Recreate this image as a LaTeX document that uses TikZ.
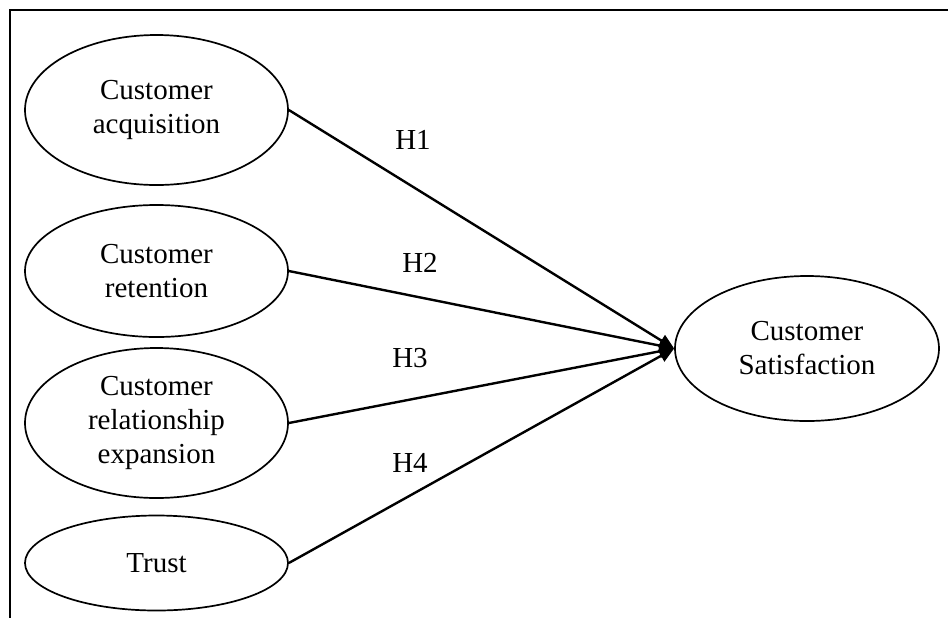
\documentclass[tikz,border=0pt]{standalone}
\usepackage{fontspec}
\setmainfont{Liberation Serif}
\usetikzlibrary{arrows.meta, shapes.geometric}

\begin{document}
\begin{tikzpicture}[x=0.5pt, y=-0.5pt,
  construct/.style={draw, ellipse, line width=0.85pt, inner sep=0pt, align=center,
    font=\fontsize{14.5}{17}\selectfont},
  hyp/.style={line width=1.2pt, -{Triangle[length=7.5pt, width=6.5pt]}},
  lbl/.style={font=\fontsize{14.5}{17}\selectfont}]
\useasboundingbox (0,0) rectangle (948,618);
\draw[line width=1pt] (948,10) -- (10,10) -- (10,618);
\node[construct, minimum width=131.5pt, minimum height=75pt] (acq) at (156.5,110) {Customer\\acquisition};
\node[construct, minimum width=131.5pt, minimum height=66pt] (ret) at (156.5,271) {Customer\\retention};
\node[construct, minimum width=131.5pt, minimum height=75pt] (exp) at (156.5,423) {Customer\\relationship\\expansion};
\node[construct, minimum width=131.5pt, minimum height=47.5pt] (trust) at (156.5,563) {Trust};
\node[construct, minimum width=132pt, minimum height=72.5pt] (sat) at (807,348.5) {Customer\\Satisfaction};
\draw[hyp] (acq.east) -- (sat.west);
\draw[hyp] (ret.east) -- (sat.west);
\draw[hyp] (exp.east) -- (sat.west);
\draw[hyp] (trust.east) -- (sat.west);
\node[lbl] (h1) at (413,140) {H1};
\node[lbl] (h2) at (420,263) {H2};
\node[lbl] (h3) at (410,358) {H3};
\node[lbl] (h4) at (410,463) {H4};
\end{tikzpicture}
\end{document}
